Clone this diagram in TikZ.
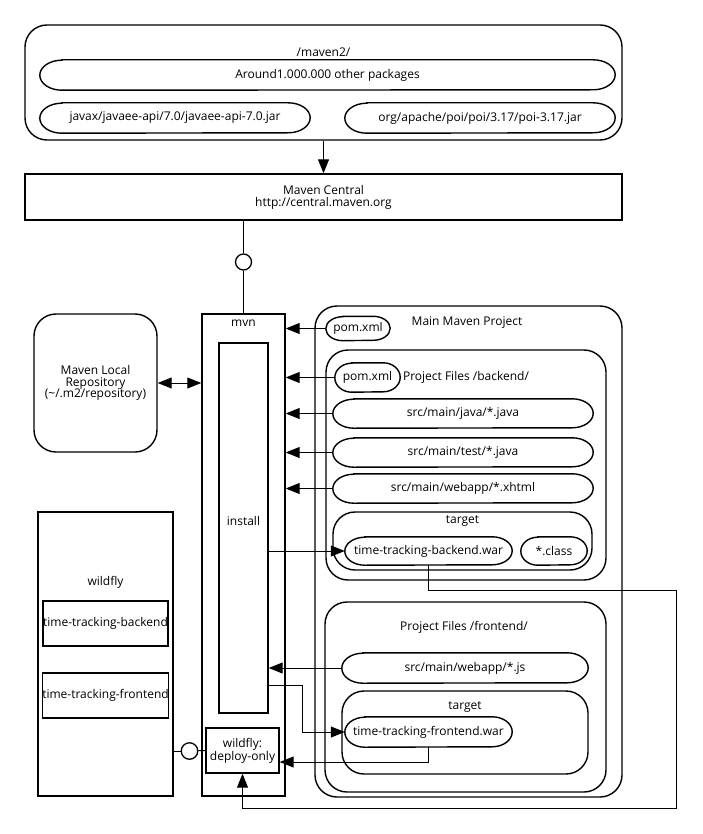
\documentclass[tikz,border=0pt]{standalone}
\usepackage{fontspec}
\setmainfont{Open Sans}
\usetikzlibrary{arrows.meta}
\begin{document}
\begin{tikzpicture}[x=1pt,y=-1pt,
  every node/.style={font=\fontsize{12}{11.8}\selectfont, inner sep=0pt, align=center},
  shp/.style={draw, line width=1.4pt, minimum width=#1},
  rect/.style={shp=#1, rectangle},
  pill/.style={rectangle, minimum width=#1, minimum height=29pt},
  rbox/.style={shp=#1, rectangle, rounded corners=22pt},
  ttl/.style={font=\fontsize{12}{11.8}\selectfont},
  outl/.style={line width=1.4pt},
  con/.style={line width=1pt},
  arr/.style={con, -{Triangle[length=14pt,width=11pt]}},
  darr/.style={con, {Triangle[length=14pt,width=11pt]}-{Triangle[length=14pt,width=11pt]}},
  lol/.style={draw, circle, line width=1.3pt, fill=white, minimum size=16pt}
]
\useasboundingbox (0,0) rectangle (702,834);
\fill[white] (0,0) rectangle (702,834);

% top repository
\node[rbox=597, minimum height=115] (m2) at (323.5,82.5) {};
\node[ttl] (m2t) at (323.5,52) {/maven2/};
\node[pill=575, minimum height=30] (other) at (327.5,75) {Around1.000.000 other packages};
\node[pill=270, minimum height=30] (javax) at (175,118) {javax/javaee-api/7.0/javaee-api-7.0.jar};
\node[pill=270, minimum height=30] (poi) at (480,118) {org/apache/poi/poi/3.17/poi-3.17.jar};

% maven central
\node[rect=597, minimum height=46] (mc) at (323.5,197) {Maven Central\\http://central.maven.org};
\draw[arr] (m2.south) -- (mc.north);

% mvn
\node[rect=83, minimum height=482] (mvn) at (243.5,555) {};
\node[ttl] (mvnt) at (243.5,323) {mvn};
\node[rect=49, minimum height=370] (inst) at (243.5,528) {};
\node[ttl] (instt) at (243.5,521) {install};
\node[rect=73, minimum height=45] (dep) at (242.5,750.5) {wildfly:\\deploy-only};

\node[lol] (lol1) at (243.5,262) {};
\draw[con] (mvn.north |- mc.south) -- (lol1);
\draw[con] (lol1) -- (mvn.north);

% local repository
\node[rbox=123, minimum height=138] (repo) at (95.5,383) {Maven Local\\Repository\\(\textasciitilde/.m2/repository)};
\draw[darr] (repo.east) -- (mvn.west |- repo.east);

% main maven project
\node[rbox=307, minimum height=491] (main) at (468.5,551.5) {};
\node[ttl] (maint) at (467,323) {Main Maven Project};
\node[pill=64, minimum height=24] (pom1) at (358,328.5) {pom.xml};

% backend
\node[rbox=280, minimum height=230] (back) at (466,465) {};
\node[ttl] (backt) at (466,377) {Project Files /backend/};
\node[pill=65] (pom2) at (367.5,377.5) {pom.xml};
\node[pill=260] (java) at (463,413.5) {src/main/java/*.java};
\node[pill=260] (test) at (463,452.5) {src/main/test/*.java};
\node[pill=260] (xhtml) at (463,488.5) {src/main/webapp/*.xhtml};
\node[rbox=259, minimum height=58] (btarget) at (462.5,541) {};
\node[ttl] (btargett) at (462.5,521) {target};
\node[pill=167, minimum height=28] (bwar) at (428.5,551) {time-tracking-backend.war};
\node[pill=66, minimum height=28] (cls) at (554,551) {*.class};

% frontend
\node[rbox=281, minimum height=190] (front) at (465.5,697) {};
\node[ttl] (frontt) at (464,627) {Project Files /frontend/};
\node[pill=246, minimum height=30] (js) at (465,668) {src/main/webapp/*.js};
\node[rbox=246, minimum height=83] (ftarget) at (465,732.5) {};
\node[ttl] (ftargett) at (465,707) {target};
\node[pill=167, minimum height=30] (fwar) at (428.5,732) {time-tracking-frontend.war};

% pill outlines with elliptical ends
\foreach \nm/\rx/\ry in {other/22/15, javax/22/15, poi/22/15, pom1/17/12, pom2/17/14.5,
  java/21/14.5, test/21/14.5, xhtml/21/14.5, bwar/20/14, cls/17/14, js/21/15, fwar/20/15}{
  \draw[outl] ([xshift=\rx pt]\nm.north west) -- ([xshift=-\rx pt]\nm.north east)
    arc[start angle=90, end angle=-90, x radius=\rx pt, y radius=\ry pt]
    -- ([xshift=\rx pt]\nm.south west)
    arc[start angle=270, end angle=90, x radius=\rx pt, y radius=\ry pt] -- cycle;
}

% wildfly
\node[rect=135, minimum height=284] (wf) at (105.5,654) {};
\node[ttl] (wft) at (105.5,582) {wildfly};
\node[rect=123, minimum height=45] (wfb) at (105.5,623.5) {time-tracking-backend};
\node[rect=123, minimum height=45] (wff) at (105.5,695.5) {time-tracking-frontend};
\node[lol, minimum size=16.5pt] (lol2) at (189.5,751) {};
\draw[con] (wf.east |- lol2) -- (lol2);
\draw[con] (lol2) -- (dep.west);

% inputs to mvn
\draw[arr] (pom1.west) -- (mvn.east |- pom1.west);
\draw[arr] (pom2.west) -- (mvn.east |- pom2.west);
\draw[arr] (java.west) -- (mvn.east |- java.west);
\draw[arr] (test.west) -- (mvn.east |- test.west);
\draw[arr] (xhtml.west) -- (mvn.east |- xhtml.west);
\draw[arr] (js.west) -- (inst.east |- js.west);

% install outputs
\draw[arr] (inst.east |- bwar.west) -- (bwar.west);
\coordinate (f1) at (302,685);
\draw[arr] (inst.east |- f1) -- (f1) |- (fwar.west);

% deploy inputs
\coordinate (f2) at (428.5,762);
\draw[arr] (fwar.south) -- (f2) -- (dep.east |- f2);
\coordinate (b1) at (676.5,590);
\coordinate (b2) at (676.5,808.5);
\draw[arr] (bwar.south) |- (b1) -- (b2) -| (dep.south);
\end{tikzpicture}
\end{document}
